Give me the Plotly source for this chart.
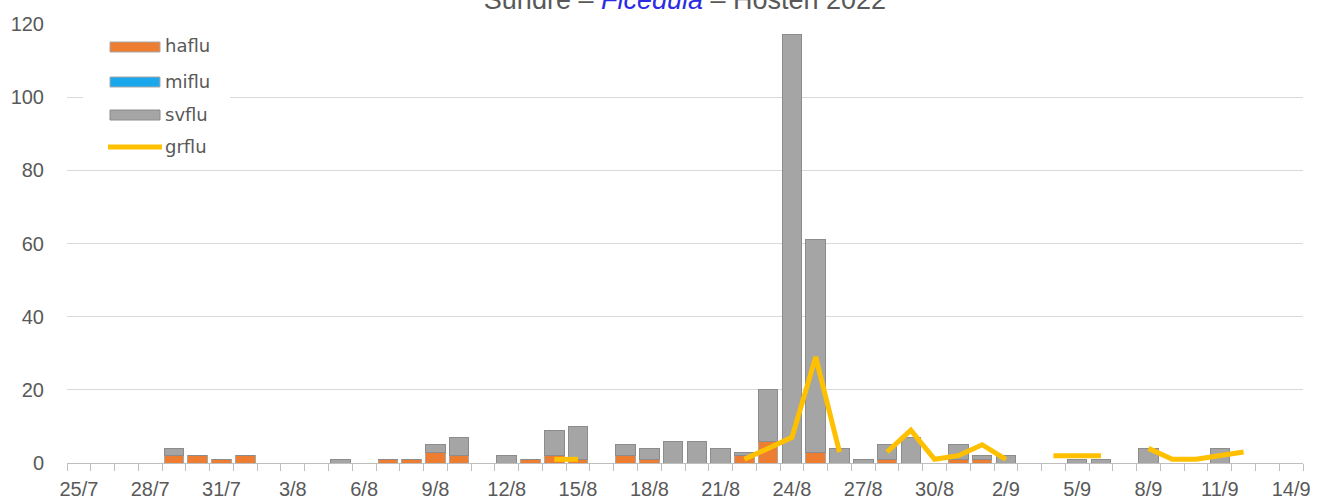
import pandas as pd
import plotly.graph_objects as go

# ---- data (index 0 = 25/7/2022 ... 51 = 14/9/2022) ----
start_date = "2022-07-25"
n_days = 52
dates = pd.date_range(start_date, periods=n_days, freq="D")

haflu = [0, 0, 0, 0, 2, 2, 1, 2, 0, 0, 0, 0, 0, 1, 1, 3, 2, 0, 0, 1,
         2, 1, 0, 2, 1, 0, 0, 0, 2, 6, 0, 3, 0, 0, 1, 0, 0, 1, 1, 0,
         0, 0, 0, 0, 0, 0, 0, 0, 0, 0, 0, 0]
miflu = [0] * 52
svflu = [0, 0, 0, 0, 2, 0, 0, 0, 0, 0, 0, 1, 0, 0, 0, 2, 5, 0, 2, 0,
         7, 9, 0, 3, 3, 6, 6, 4, 1, 14, 117, 58, 4, 1, 4, 7, 0, 4, 1, 2,
         0, 0, 1, 1, 0, 4, 0, 0, 4, 0, 0, 0]
grflu = [None, None, None, None, None, None, None, None, None, None,
         None, None, None, None, None, None, None, None, None, None,
         1, 1, None, None, None, None, None, None, 1, 4,
         7, 29, 3, None, 3, 9, 1, 2, 5, 1,
         None, 2, 2, 2, None, 4, 1, 1, 2, 3,
         None, None]

series_names = ["haflu", "miflu", "svflu", "grflu"]
colors = {"haflu": "#ED7D31", "miflu": "#1AA7EC", "svflu": "#A5A5A5", "grflu": "#FFC000"}
edge = {"haflu": "#A8A8A8", "miflu": "#A8A8A8", "svflu": "#8C8C8C"}

title_html = ("Sundre – <span style='color:#2B2BE6'><i>Ficedula</i></span> – Hösten 2022")

W, H = 1319, 499
L, R, T, B = 67, 1303, 24, 463

fig = go.Figure()
for name, vals in (("haflu", haflu), ("miflu", miflu), ("svflu", svflu)):
    fig.add_trace(go.Bar(
        x=dates, y=vals, name=name,
        marker=dict(color=colors[name], line=dict(color=edge[name], width=1)),
        showlegend=False,
    ))
fig.add_trace(go.Scatter(
    x=dates, y=grflu, name="grflu", mode="lines",
    line=dict(color=colors["grflu"], width=5),
    connectgaps=False, showlegend=False,
))

day_ms = 86400000
fig.update_layout(
    width=W, height=H,
    margin=dict(l=L, r=W - R, t=T, b=H - B, autoexpand=False),
    barmode="stack", bargap=0.18,
    plot_bgcolor="white", paper_bgcolor="white",
    font=dict(family="Liberation Sans, Arial, sans-serif", color="#595959", size=19),
    title=dict(text=title_html, x=0.5, xref="paper", xanchor="center",
               y=1.0, yref="container", yanchor="middle", pad=dict(t=0, b=0),
               font=dict(size=27, color="#595959", family="Liberation Sans, Arial, sans-serif")),
    showlegend=False,
)
fig.update_xaxes(
    type="date",
    range=["2022-07-24 12:00", "2022-09-14 12:00"],
    tickmode="linear", tick0="2022-07-25", dtick=3 * day_ms,
    tickformat="%-d/%-m",
    ticks="outside", ticklen=8, tickcolor="rgba(0,0,0,0)",
    minor=dict(tick0="2022-07-24 12:00", dtick=day_ms, ticks="outside",
               ticklen=7, tickcolor="#BFBFBF", tickwidth=1.3, showgrid=False),
    showgrid=False, showline=True, linecolor="#BFBFBF", linewidth=1.3,
    tickfont=dict(size=20, color="#595959"),
    automargin=False,
)
fig.update_yaxes(
    range=[0, 120], tickmode="linear", tick0=0, dtick=20,
    showgrid=True, gridcolor="#D9D9D9", gridwidth=1.3,
    zeroline=False, showline=False,
    ticks="outside", ticklen=18, tickcolor="rgba(0,0,0,0)",
    tickfont=dict(size=20, color="#595959"),
    automargin=False,
)

# ---- legend drawn as shapes + annotations (pixel positions) ----
def px(x):
    return (x - L) / (R - L)

def py(y):
    return (B - y) / (B - T)

shapes = [dict(type="rect", xref="paper", yref="paper", x0=px(83), x1=px(230),
               y0=py(165), y1=py(30), fillcolor="white", line=dict(width=0), layer="above")]
leg_rows = [("haflu", 47), ("miflu", 82), ("svflu", 115), ("grflu", 147)]
annotations = []
for name, yc in leg_rows:
    if name == "grflu":
        shapes.append(dict(type="line", xref="paper", yref="paper", x0=px(108), x1=px(162),
                           y0=py(yc), y1=py(yc), line=dict(color=colors[name], width=5),
                           layer="above"))
    else:
        shapes.append(dict(type="rect", xref="paper", yref="paper", x0=px(110), x1=px(160),
                           y0=py(yc + 5), y1=py(yc - 5), fillcolor=colors[name],
                           line=dict(color=edge[name], width=1), layer="above"))
    annotations.append(dict(text=name, xref="paper", yref="paper", x=px(163), y=py(yc - 1),
                            xanchor="left", yanchor="middle", showarrow=False,
                            font=dict(family="DejaVu Sans, sans-serif", size=18, color="#595959")))
fig.update_layout(shapes=shapes, annotations=annotations)

fig.write_html("out.html",
               config={"displayModeBar": False},
               post_script="document.body.style.margin='0px';document.body.style.overflow='hidden';")
